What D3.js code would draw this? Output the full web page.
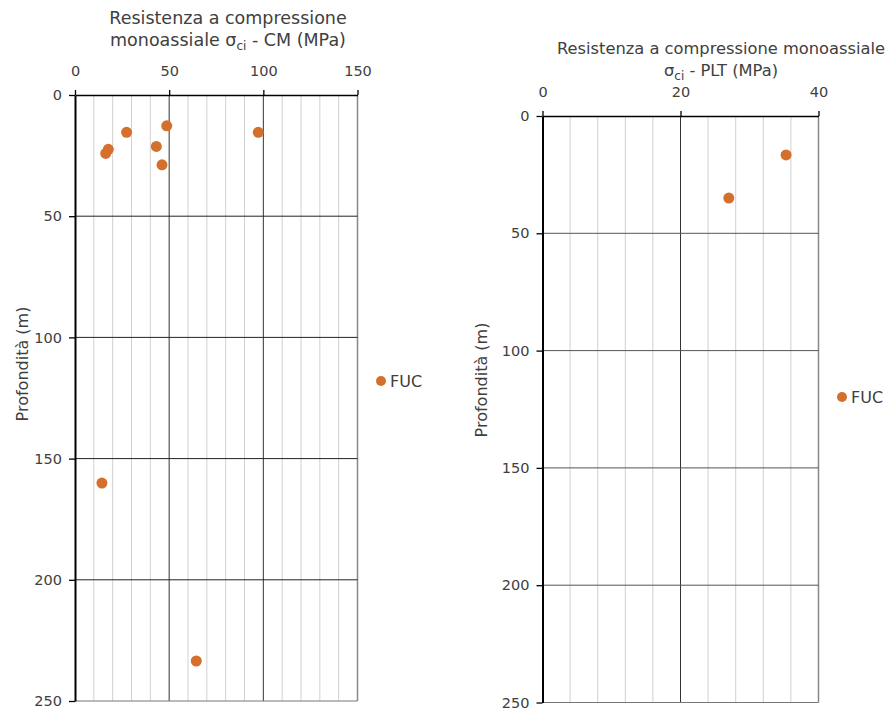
<!DOCTYPE html>
<html><head><meta charset="utf-8">
<script src="https://cdn.jsdelivr.net/npm/d3@7"></script>
<style>body{margin:0;background:#fff}text{font-family:"DejaVu Sans",sans-serif}</style>
</head><body>
<svg id="c" width="893" height="710"></svg>
<script>
// Left chart data (CM)
const cmStrength = [48.7, 27.4, 97.3, 43.2, 17.7, 16.3, 46.2, 14.3, 64.4];
const cmDepth    = [12.7, 15.4, 15.4, 21.2, 22.4, 24.1, 28.8, 160.1, 233.5];
// Right chart data (PLT)
const pltStrength = [35.3, 27.0];
const pltDepth    = [16.6, 35.0];
const seriesName = "FUC";
const depthTicks = [0, 50, 100, 150, 200, 250];
const cmTicks = [0, 50, 100, 150];
const pltTicks = [0, 20, 40];

const svg = d3.select("#c");
const orange = "#D56F2C";
const txt = "#404040";

function panel(o) {
  const x = d3.scaleLinear().domain(o.xd).range([o.x0, o.x1]);
  const y = d3.scaleLinear().domain([0, 250]).range([o.y0, o.y1]);
  const g = svg.append("g");
  g.selectAll(".mv").data(d3.range(o.xd[0] + o.minor, o.xd[1], o.minor).filter(v => !o.xt.includes(v)))
    .join("line").attr("x1", d => x(d)).attr("x2", d => x(d)).attr("y1", o.y0).attr("y2", o.y1)
    .attr("stroke", "#d0d0d0").attr("stroke-width", 1);
  g.selectAll(".Mv").data(o.xt.slice(1, -1)).join("line")
    .attr("x1", d => x(d)).attr("x2", d => x(d)).attr("y1", o.y0).attr("y2", o.y1)
    .attr("stroke", "#333").attr("stroke-width", 1);
  g.append("line").attr("x1", x(o.xd[1])).attr("x2", x(o.xd[1])).attr("y1", o.y0).attr("y2", o.y1)
    .attr("stroke", "#888").attr("stroke-width", 1.5);
  g.selectAll(".hg").data(depthTicks.slice(1, -1)).join("line")
    .attr("x1", o.x0).attr("x2", o.x1).attr("y1", d => y(d)).attr("y2", d => y(d))
    .attr("stroke", o.hcol).attr("stroke-width", 1);
  g.append("line").attr("x1", o.x0).attr("x2", o.x1).attr("y1", y(250)).attr("y2", y(250))
    .attr("stroke", "#777").attr("stroke-width", 1.2);
  const ax = g.append("g").attr("transform", `translate(0,${o.y0})`)
    .call(d3.axisTop(x).tickValues(o.xt).tickSize(5).tickSizeOuter(0).tickPadding(14));
  ax.select(".domain").attr("stroke", "#000").attr("stroke-width", 1.5);
  ax.selectAll(".tick line").attr("stroke", "#000").attr("stroke-width", 1.3);
  ax.selectAll("text").attr("font-size", 14.5).attr("fill", txt);
  const ay = g.append("g").attr("transform", `translate(${o.x0},0)`)
    .call(d3.axisLeft(y).tickValues(depthTicks).tickSize(6).tickSizeOuter(0).tickPadding(7));
  ay.select(".domain").attr("stroke", "#000").attr("stroke-width", 2);
  ay.selectAll(".tick line").attr("stroke", "#000").attr("stroke-width", 1.3);
  ay.selectAll("text").attr("font-size", 14.5).attr("fill", txt);
  g.selectAll(".pt").data(o.xs).join("circle")
    .attr("cx", (d) => x(d)).attr("cy", (d, i) => y(o.ys[i])).attr("r", 5.5).attr("fill", orange);
  o.title.forEach((t, i) => {
    const tx = g.append("text").attr("x", o.tx).attr("y", o.ty + i * 22).attr("text-anchor", "middle")
      .attr("font-size", o.tfs).attr("fill", txt);
    t.forEach(p => {
      if (p.sub) tx.append("tspan").attr("font-size", 12).attr("dy", 4).text(p.s);
      else if (p.up) tx.append("tspan").attr("dy", -4).text(p.s);
      else tx.append("tspan").text(p.s);
    });
  });
  g.append("text").attr("transform", `translate(${o.yl[0]},${o.yl[1]}) rotate(-90)`)
    .attr("text-anchor", "middle").attr("font-size", 16).attr("fill", txt).text("Profondità (m)");
  g.append("circle").attr("cx", o.lg[0]).attr("cy", o.lg[1]).attr("r", 5).attr("fill", orange);
  g.append("text").attr("x", o.lg[0] + 9).attr("y", o.lg[1] + 5.5).attr("font-size", 16)
    .attr("fill", txt).text(seriesName);
}

panel({xd: [0, 150], xt: cmTicks, minor: 10, x0: 75, x1: 357.5, y0: 95, y1: 701, xs: cmStrength, ys: cmDepth,
  hcol: "#222", tx: 228, ty: 24, tfs: 17.5,
  title: [[{s: "Resistenza a compressione"}], [{s: "monoassiale σ"}, {s: "ci", sub: true}, {s: " - CM (MPa)", up: true}]],
  yl: [28, 364], lg: [381, 381]});
panel({xd: [0, 40], xt: pltTicks, minor: 4, x0: 542.5, x1: 818.5, y0: 116, y1: 702.5, xs: pltStrength, ys: pltDepth,
  hcol: "#555", tx: 721, ty: 54, tfs: 16.3,
  title: [[{s: "Resistenza a compressione monoassiale"}], [{s: "σ"}, {s: "ci", sub: true}, {s: " - PLT (MPa)", up: true}]],
  yl: [487, 380], lg: [842, 397]});
</script>
</body></html>
